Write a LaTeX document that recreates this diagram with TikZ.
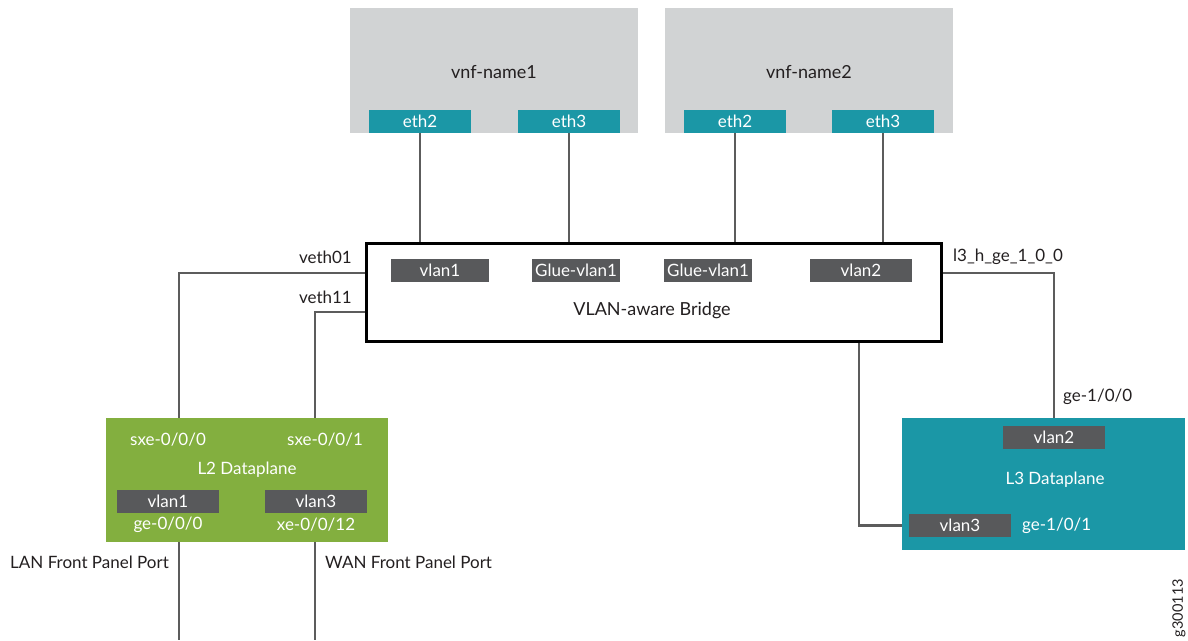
\documentclass[tikz,border=0pt]{standalone}
\usepackage{fontspec}
\setmainfont{Lato}
\usetikzlibrary{calc}
\definecolor{vnfgray}{HTML}{D1D3D4}
\definecolor{teal}{HTML}{1B97A6}
\definecolor{dgray}{HTML}{58595B}
\definecolor{lgreen}{HTML}{83AF3F}
\definecolor{lnc}{HTML}{5C5C5C}
\definecolor{txt}{HTML}{231F20}
\tikzset{
  vnf/.style={fill=vnfgray, draw=none, minimum width=288, minimum height=125, inner sep=0, anchor=north west},
  eth/.style={fill=teal, text=white, minimum width=102, minimum height=23, inner sep=0, font=\fontsize{17}{19}\selectfont},
  vl/.style={fill=dgray, text=white, minimum width=98, minimum height=23, inner sep=0, font=\fontsize{17}{19}\selectfont},
  lbl/.style={text=txt, inner sep=0, font=\fontsize{17}{19}\selectfont},
  wlbl/.style={text=white, inner sep=0, font=\fontsize{17}{19}\selectfont},
  big/.style={text=txt, inner sep=0, font=\fontsize{18}{21}\selectfont},
  wire/.style={draw=lnc, line width=2.4}
}
\begin{document}
\begin{tikzpicture}[x=1pt,y=-1pt]
\useasboundingbox (0,0) rectangle (1188,640);
% VNF boxes
\node[vnf] (vnf1) at (350,8) {};
\node[vnf] (vnf2) at (665,8) {};
\node[big] (vn1) at (494,72) {vnf-name1};
\node[big] (vn2) at (809,72) {vnf-name2};
\node[eth] (e12) at (420,121.5) {eth2};
\node[eth] (e13) at (569,121.5) {eth3};
\node[eth] (e22) at (735,121.5) {eth2};
\node[eth] (e23) at (883,121.5) {eth3};
% Bridge
\node[draw=black, line width=2.6, fill=white, minimum width=575, minimum height=98, inner sep=0, anchor=north west] (br) at (365,242) {};
\node[vl] (bv1) at (440,270) {vlan1};
\node[vl, minimum width=88] (bg1) at (576,270) {Glue-vlan1};
\node[vl, minimum width=88] (bg2) at (708,270) {Glue-vlan1};
\node[vl, minimum width=102] (bv2) at (861,270) {vlan2};
\node[big] (brl) at (652,311) {VLAN-aware Bridge};
% eth to bridge
\draw[wire] (e12.south) -- (e12.south |- br.north);
\draw[wire] (e13.south) -- (e13.south |- br.north);
\draw[wire] (e22.south) -- (e22.south |- br.north);
\draw[wire] (e23.south) -- (e23.south |- br.north);
% L2 Dataplane
\node[fill=lgreen, minimum width=282, minimum height=124, inner sep=0, anchor=north west] (l2) at (106,418) {};
\node[wlbl] (sxe0) at (168,440) {sxe-0/0/0};
\node[wlbl] (sxe1) at (325,440) {sxe-0/0/1};
\node[wlbl] (l2l) at (247,470) {L2 Dataplane};
\node[vl, minimum width=102] (l2v1) at (168,501.5) {vlan1};
\node[vl, minimum width=102] (l2v3) at (316,501.5) {vlan3};
\node[wlbl] (ge0) at (168,525) {ge-0/0/0};
\node[wlbl] (xe0) at (316,525) {xe-0/0/12};
% L3 Dataplane
\node[fill=teal, minimum width=283, minimum height=132, inner sep=0, anchor=north west] (l3) at (902,418) {};
\node[vl, minimum width=102] (l3v2) at (1054,437.5) {vlan2};
\node[wlbl] (l3l) at (1055,480) {L3 Dataplane};
\node[vl, minimum width=102] (l3v3) at (960,525.5) {vlan3};
\node[wlbl, anchor=west] (ge11) at (1022,526) {ge-1/0/1};
% labels
\node[lbl, anchor=east] (veth01) at (352,257) {veth01};
\node[lbl, anchor=east] (veth11) at (352,297) {veth11};
\node[lbl, anchor=west] (l3h) at (953,257) {l3\_h\_ge\_1\_0\_0};
\node[lbl, anchor=west] (ge10) at (1063,397) {ge-1/0/0};
\node[lbl, anchor=west] (lan) at (10,562) {LAN Front Panel Port};
\node[lbl, anchor=west] (wan) at (325,562) {WAN Front Panel Port};
\node[lbl, rotate=90, font=\fontsize{14.5}{16}\selectfont] (gid) at (1179,608) {g300113};
% wires
\coordinate (b1) at ($(br.north west)+(0,31)$);
\coordinate (b2) at ($(br.north west)+(0,70)$);
\coordinate (b3) at ($(br.north east)+(0,31)$);
\coordinate (b4) at ($(br.south west)+(494,0)$);
\coordinate (p1) at (179,418);
\coordinate (p2) at (315,418);
\coordinate (q1) at (179,542);
\coordinate (q2) at (315,542);
\coordinate (bot1) at (179,640);
\coordinate (bot2) at (315,640);
\draw[wire] (b1) -| (p1);
\draw[wire] (b2) -| (p2);
\draw[wire] (b3) -| (l3.north -| l3v2);
\draw[wire] (b4) |- (l3v3.west -| l3.west);
\draw[wire] (q1) -- (bot1);
\draw[wire] (q2) -- (bot2);
\end{tikzpicture}
\end{document}
